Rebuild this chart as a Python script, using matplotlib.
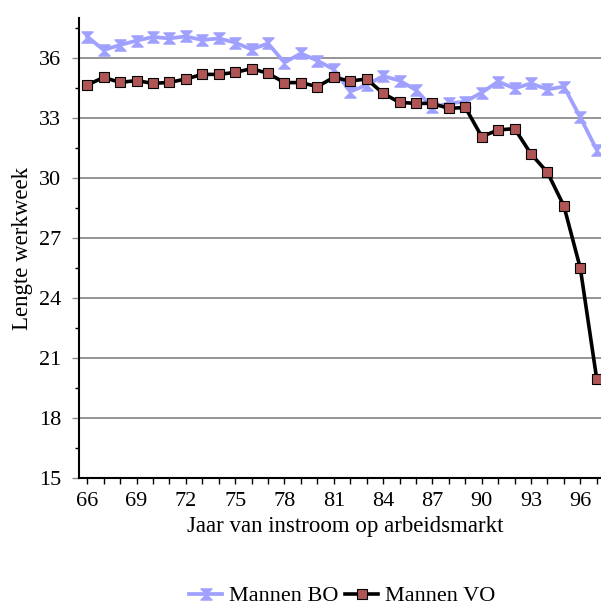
import matplotlib
matplotlib.use("Agg")
import matplotlib.pyplot as plt
from matplotlib.path import Path
from matplotlib.ticker import FixedLocator

years = list(range(66, 98))
mannen_bo = [37.07, 36.40, 36.65, 36.87, 37.05, 36.98, 37.08, 36.90, 36.98, 36.77,
             36.43, 36.73, 35.77, 36.23, 35.87, 35.43, 34.32, 34.65, 35.10, 34.87,
             34.40, 33.53, 33.73, 33.82, 34.27, 34.82, 34.48, 34.73, 34.43, 34.57,
             33.03, 31.40]
mannen_vo = [34.65, 35.03, 34.78, 34.87, 34.73, 34.78, 34.95, 35.18, 35.18, 35.28,
             35.47, 35.23, 34.77, 34.77, 34.57, 35.03, 34.85, 34.95, 34.23, 33.78,
             33.73, 33.73, 33.48, 33.53, 32.07, 32.40, 32.47, 31.20, 30.28, 28.60,
             25.48, 19.93]
x_ticklabels = ["66", "69", "72", "75", "78", "81", "84", "87", "90", "93", "96"]
y_ticks = [15, 18, 21, 24, 27, 30, 33, 36]

plt.rcParams['font.family'] = ['Liberation Serif', 'DejaVu Serif']
FS = 16

W, H = 601, 606
fig = plt.figure(figsize=(W / 100, H / 100), dpi=100)
L, R, T, B = 79, 605, 18, 478
ax = fig.add_axes([L / W, (H - B) / H, (R - L) / W, (B - T) / H])

hourglass = Path([(-1, 1), (1, 1), (-1, -1), (1, -1), (-1, 1)],
                 [Path.MOVETO, Path.LINETO, Path.LINETO, Path.LINETO, Path.CLOSEPOLY])

bo_col = '#A0A0FF'
ax.plot(years, mannen_bo, color=bo_col, lw=2.7, marker=hourglass, ms=8,
        mfc=bo_col, mec=bo_col, label='Mannen BO', zorder=3)
ax.plot(years, mannen_vo, color='black', lw=2.6, marker='s', ms=6.5,
        mfc='#B05555', mec='black', mew=0.8, label='Mannen VO', zorder=4)

ax.set_xlim(65.5, 97.5)
ax.set_ylim(15, 38)

ax.set_xticks(years)
ax.set_xticklabels([str(y) if str(y) in x_ticklabels else '' for y in years], fontsize=FS)
ax.set_yticks(y_ticks)
ax.set_yticklabels([str(v) for v in y_ticks], fontsize=FS)
ax.yaxis.set_minor_locator(FixedLocator([16.5 + 3 * i for i in range(8)]))

ax.grid(axis='y', which='major', color='#8c8c8c', lw=1.3)
ax.set_axisbelow(True)
ax.tick_params(axis='y', which='major', length=5, width=1, color='#8c8c8c', pad=8)
ax.tick_params(axis='y', which='minor', length=3, width=1, color='black')
ax.tick_params(axis='x', which='major', length=4, width=1, color='black', pad=6)

for s in ['top', 'right']:
    ax.spines[s].set_visible(False)
for s in ['left', 'bottom']:
    ax.spines[s].set_linewidth(1.5)
    ax.spines[s].set_color('black')

ax.set_ylabel('Lengte werkweek', fontsize=FS + 0.5)
ax.yaxis.set_label_coords((33 - L) / (R - L), 0.5)
ax.set_xlabel('Jaar van instroom op arbeidsmarkt', fontsize=FS + 0.5)
ax.xaxis.set_label_coords((345 - L) / (R - L), (B - 516) / (B - T))

leg = fig.legend(loc='center', bbox_to_anchor=(342 / W, 1 - 596 / H), ncol=2,
                 frameon=False, fontsize=FS, handlelength=1.5, handletextpad=0.3,
                 columnspacing=0.3)

fig.savefig('out.png', dpi=100)
